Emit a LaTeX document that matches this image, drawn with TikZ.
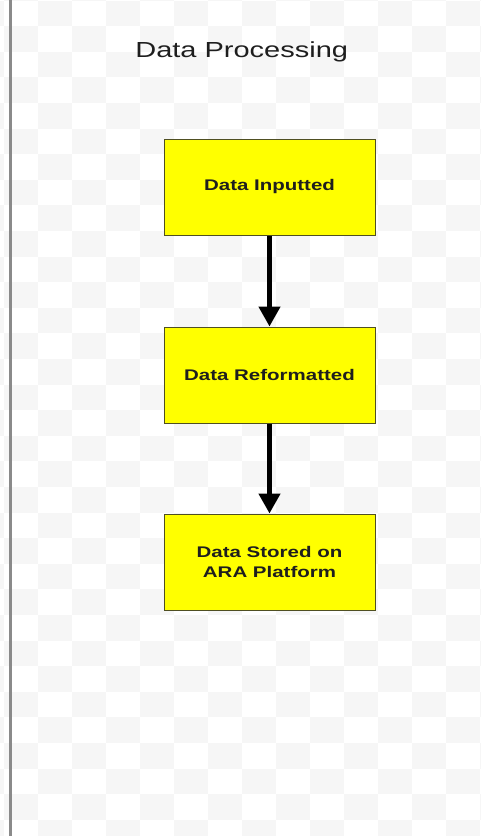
\documentclass[tikz,border=0pt]{standalone}
\usepackage{fontspec}
\usepackage{tikz}
\usetikzlibrary{arrows.meta, positioning}
\usepackage{xcolor}
\newfontfamily\titlefont[FakeStretch=1.33]{Liberation Sans}
\newfontfamily\boxfont[FakeStretch=1.33]{Liberation Sans Bold}
\definecolor{checkgray}{HTML}{F6F6F6}
\definecolor{railgray}{HTML}{8A8A8A}
\definecolor{boxyellow}{HTML}{FFFF00}
\definecolor{boxedge}{HTML}{4F4F22}
\definecolor{inkblack}{HTML}{1E1E1E}

\begin{document}
\begin{tikzpicture}[x=1pt, y=-1pt,
    stagebox/.style={fill=boxyellow, draw=boxedge, line width=1pt,
      minimum width=211pt, minimum height=96pt, inner sep=0pt,
      align=center, text=inkblack,
      font=\boxfont\fontsize{15.4}{20}\selectfont},
    flowarrow/.style={-{Triangle[width=21pt, length=20pt]}, line width=4.5pt, black}]
  \useasboundingbox (0,0) rectangle (481,836);
  % faint checkerboard background
  \begin{scope}
    \clip (0,0) rectangle (481,836);
    \foreach \i in {0,...,15}{
      \foreach \j in {0,...,33}{
        \pgfmathtruncatemacro\cellodd{mod(\i+\j,2)}
        \ifnum\cellodd=1
          \fill[checkgray] (4.3+34*\i-34,0.6+25.6*\j-25.6) rectangle ++(34,25.6);
        \fi
      }
    }
  \end{scope}
  % left rail
  \draw[railgray, line width=3pt] (10.5,0) -- (10.5,836);
  % title
  \node[anchor=base, text=inkblack, font=\titlefont\fontsize{21.8}{26}\selectfont]
    (title) at (241.7,57.3) {Data Processing};
  % stages
  \foreach \i/\y/\lbl in {
    1/187/{Data Inputted},
    2/375/{Data Reformatted},
    3/562/{Data Stored on\\ARA Platform}}{
    \node[stagebox] (stage\i) at (269.5,\y) {\lbl};
  }
  \foreach \i/\j in {1/2, 2/3}{
    \draw[flowarrow] (stage\i.south) -- (stage\j.north);
  }
\end{tikzpicture}
\end{document}
